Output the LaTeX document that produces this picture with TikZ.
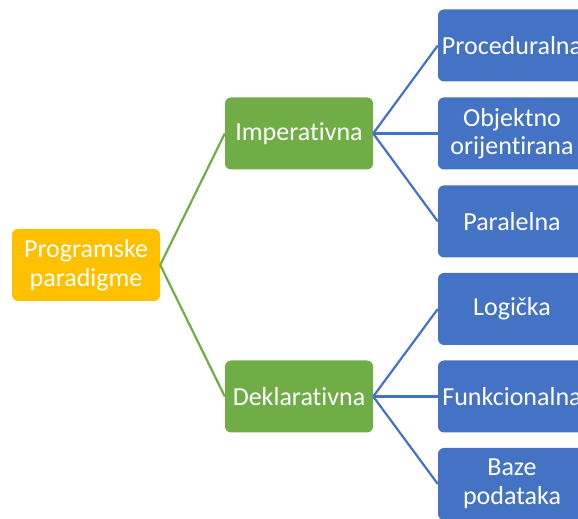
\documentclass[tikz,border=0pt]{standalone}
\usepackage{fontspec}
\setmainfont{Carlito}[Ligatures={NoCommon}]
\usepackage{tikz}

\definecolor{orng}{HTML}{FFC000}
\definecolor{grn}{HTML}{70AD47}
\definecolor{blu}{HTML}{4472C4}

\tikzset{
  box/.style={shape=rectangle, rounded corners=6pt, minimum width=148pt, minimum height=72pt,
    inner sep=1pt, align=center, text=white, font=\fontsize{26}{28.5}\selectfont},
  glink/.style={draw=grn, line width=2.2pt},
  blink/.style={draw=blu, line width=2.2pt}
}

\begin{document}
\begin{tikzpicture}[x=1pt,y=1pt]
\useasboundingbox (0,0) rectangle (578,519);

\node[box, fill=orng](prog) at (86,254) {Programske\\paradigme};
\node[box, fill=grn](imper) at (299,385.5) {Imperativna};
\node[box, fill=grn](deklar) at (299,122.5) {Deklarativna};
\node[box, fill=blu](proc) at (512,473.5) {Proceduralna};
\node[box, fill=blu](objekt) at (512,385.5) {Objektno\\orijentirana};
\node[box, fill=blu](paral) at (512,297.5) {Paralelna};
\node[box, fill=blu](logic) at (512,210) {Logička};
\node[box, fill=blu](funk) at (512,122.5) {Funkcionalna};
\node[box, fill=blu](baze) at (512,35) {Baze\\podataka};


\path[glink] (prog.east) edge (imper.west);
\path[glink] (prog.east) edge (deklar.west);

\path[blink] (imper.east) edge (proc.west);
\path[blink] (imper.east) edge (objekt.west);
\path[blink] (imper.east) edge (paral.west);

\path[blink] (deklar.east) edge (logic.west);
\path[blink] (deklar.east) edge (funk.west);
\path[blink] (deklar.east) edge (baze.west);
\end{tikzpicture}
\end{document}
